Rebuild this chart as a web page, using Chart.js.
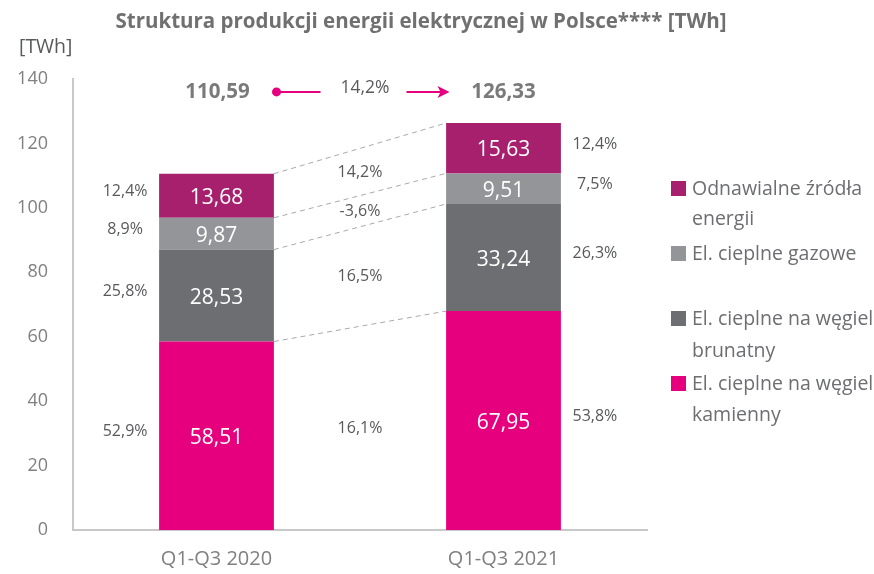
<!DOCTYPE html>
<html lang="pl">
<head>
<meta charset="UTF-8">
<title>Struktura produkcji energii elektrycznej w Polsce</title>
<script src="https://cdn.jsdelivr.net/npm/chart.js"></script>
<style>
  html, body { margin: 0; padding: 0; background: #fff; }
  #wrap { width: 874px; height: 574px; position: relative; }
</style>
</head>
<body>
<div id="wrap"><canvas id="chart" width="874" height="574"></canvas></div>
<script>
// data
const periods = ['Q1-Q3 2020', 'Q1-Q3 2021'];
const seriesNames = [
  ['El. cieplne na węgiel', 'kamienny'],
  ['El. cieplne na węgiel', 'brunatny'],
  ['El. cieplne gazowe'],
  ['Odnawialne źródła', 'energii']
];
const hardCoal = [58.51, 67.95];
const lignite = [28.53, 33.24];
const gas = [9.87, 9.51];
const renewables = [13.68, 15.63];
const share2020 = ['52,9%', '25,8%', '8,9%', '12,4%'];
const share2021 = ['53,8%', '26,3%', '7,5%', '12,4%'];
const changes = ['16,1%', '16,5%', '-3,6%', '14,2%'];
const totalChange = '14,2%';
const yTicks = [0, 20, 40, 60, 80, 100, 120, 140];

const colors = ['#E6007E', '#6D6E71', '#939598', '#A6206E'];
const textGray = '#6D6E71';
const FONT = '"Open Sans", sans-serif';

const fmt = v => v.toFixed(2).replace('.', ',');

// labels, dashed connectors, legend, title
const overlay = {
  id: 'overlay',
  afterDatasetsDraw(chart) {
    const ctx = chart.ctx;
    const y = chart.scales.y;
    const metas = chart.data.datasets.map((d, i) => chart.getDatasetMeta(i));
    ctx.save();

    // dashed connectors
    ctx.strokeStyle = '#A7A9AC';
    ctx.lineWidth = 1;
    ctx.setLineDash([5, 4]);
    metas.forEach(m => {
      const a = m.data[0], b = m.data[1];
      ctx.beginPath();
      ctx.moveTo(a.x + a.width / 2, a.y);
      ctx.lineTo(b.x - b.width / 2, b.y);
      ctx.stroke();
    });
    ctx.setLineDash([]);

    // values in segments
    ctx.textAlign = 'center';
    ctx.textBaseline = 'middle';
    ctx.font = '21px ' + FONT;
    ctx.fillStyle = '#fff';
    metas.forEach((m, i) => {
      m.data.forEach((el, j) => {
        ctx.fillText(fmt(chart.data.datasets[i].data[j]), el.x, (el.y + el.base) / 2 + 2);
      });
    });

    // shares and changes
    ctx.font = '16px ' + FONT;
    ctx.fillStyle = '#58595B';
    metas.forEach((m, i) => {
      const a = m.data[0], b = m.data[1];
      const ca = (a.y + a.base) / 2, cb = (b.y + b.base) / 2;
      ctx.fillText(share2020[i], a.x - a.width / 2 - 34, ca - 4);
      ctx.fillText(share2021[i], b.x + b.width / 2 + 34, cb - 4);
      ctx.fillText(changes[i], (a.x + b.x) / 2, (ca + cb) / 2);
    });

    // totals row
    const n = chart.data.datasets.length;
    const totals = [0, 1].map(j => chart.data.datasets.reduce((s, d) => s + d.data[j], 0));
    const x0 = metas[0].data[0].x, x1 = metas[0].data[1].x;
    const ty = y.getPixelForValue(136);
    ctx.font = 'bold 20.5px ' + FONT;
    ctx.fillStyle = '#7A7A7A';
    ctx.fillText(fmt(totals[0]), x0 + 1, ty);
    ctx.fillText(fmt(totals[1]), x1, ty);
    ctx.font = '17.5px ' + FONT;
    ctx.fillStyle = '#58595B';
    ctx.fillText(totalChange, (x0 + x1) / 2 + 5, ty - 4);
    ctx.strokeStyle = colors[0];
    ctx.fillStyle = colors[0];
    ctx.lineWidth = 2;
    ctx.beginPath();
    ctx.arc(x0 + 60, ty, 4.5, 0, Math.PI * 2);
    ctx.fill();
    ctx.beginPath();
    ctx.moveTo(x0 + 60, ty);
    ctx.lineTo(x0 + 104, ty);
    ctx.moveTo(x1 - 97, ty);
    ctx.lineTo(x1 - 60, ty);
    ctx.stroke();
    ctx.beginPath();
    ctx.moveTo(x1 - 54, ty);
    ctx.lineTo(x1 - 66, ty - 6);
    ctx.lineTo(x1 - 63, ty);
    ctx.lineTo(x1 - 66, ty + 6);
    ctx.closePath();
    ctx.fill();

    // legend (top item first)
    const legendRows = [[188, 218], [253], [318, 350], [383, 414]];
    ctx.textAlign = 'left';
    ctx.font = '19.5px ' + FONT;
    for (let k = 0; k < n; k++) {
      const i = n - 1 - k;
      const rows = legendRows[k];
      ctx.fillStyle = colors[i];
      ctx.fillRect(671, rows[0] - 7, 15, 15);
      ctx.fillStyle = textGray;
      seriesNames[i].forEach((t, r) => ctx.fillText(t, 692, rows[r] + 1));
    }

    // title and unit
    ctx.textAlign = 'center';
    ctx.font = 'bold 20.5px ' + FONT;
    ctx.fillStyle = '#707070';
    ctx.fillText('Struktura produkcji energii elektrycznej w Polsce**** [TWh]', 421, 22);
    ctx.textAlign = 'left';
    ctx.font = '19.5px ' + FONT;
    ctx.fillStyle = '#58595B';
    ctx.fillText('[TWh]', 19, 47);
    ctx.restore();
  }
};

new Chart(document.getElementById('chart'), {
  type: 'bar',
  data: {
    labels: periods,
    datasets: [hardCoal, lignite, gas, renewables].map((d, i) => ({
      label: seriesNames[i].join(' '),
      data: d,
      backgroundColor: colors[i],
      borderWidth: 0,
      barPercentage: 0.8,
      categoryPercentage: 0.5
    }))
  },
  options: {
    responsive: false,
    animation: false,
    events: [],
    layout: { padding: { top: 79, left: 0, right: 227, bottom: 0 } },
    plugins: { legend: { display: false }, tooltip: { enabled: false } },
    scales: {
      x: {
        stacked: true,
        grid: { display: false, drawTicks: false },
        border: { color: '#C8C8C8', width: 2 },
        ticks: { color: '#808080', font: { family: FONT, size: 20 }, padding: 17 },
        afterFit(s) { s.height = 44; }
      },
      y: {
        stacked: true,
        min: 0,
        max: 140,
        afterBuildTicks(s) { s.ticks = yTicks.map(v => ({ value: v })); },
        grid: { display: false, drawTicks: false },
        border: { color: '#C8C8C8', width: 2 },
        ticks: { color: '#808080', font: { family: FONT, size: 18 }, padding: 25 },
        afterFit(s) { s.width = 73; }
      }
    }
  },
  plugins: [overlay]
});
</script>
</body>
</html>
